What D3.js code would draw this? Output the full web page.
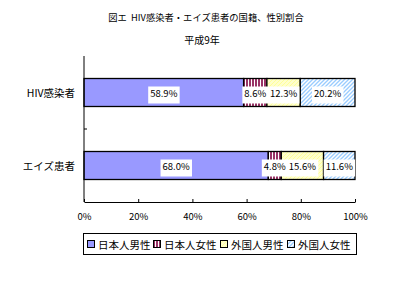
<!DOCTYPE html>
<meta charset="utf-8">
<head>
    <script src="https://d3js.org/d3.v7.min.js"></script>
    <style>
        body { margin: 0; background: #fff; font-family: 'Noto Sans CJK JP', sans-serif; }
        text { font-family: 'Noto Sans CJK JP', sans-serif; }
    </style>
</head>
<body>
<div id="chart"></div>
<script>
    // data
    var categories = ["HIV感染者", "エイズ患者"];
    var seriesNames = ["日本人男性", "日本人女性", "外国人男性", "外国人女性"];
    var hivValues = [58.9, 8.6, 12.3, 20.2];
    var aidsValues = [68.0, 4.8, 15.6, 11.6];
    var xTicks = [0, 20, 40, 60, 80, 100];
    var titleLines = ["図エ  HIV感染者・エイズ患者の国籍、性別割合", "平成9年"];

    var W = 404, H = 282;
    var margin = {top: 56, left: 84, right: 49, bottom: 80};
    var width = W - margin.left - margin.right,
        height = H - margin.top - margin.bottom;

    var svg = d3.select("#chart").append("svg")
        .attr("width", W).attr("height", H);

    // patterns
    var defs = svg.append("defs");
    var p2 = defs.append("pattern").attr("id", "pat2").attr("patternUnits", "userSpaceOnUse")
        .attr("width", 3).attr("height", 3);
    p2.append("rect").attr("width", 3).attr("height", 3).attr("fill", "#993366");
    p2.append("rect").attr("x", 2).attr("width", 1).attr("height", 3).attr("fill", "#fff");

    var p3 = defs.append("pattern").attr("id", "pat3").attr("patternUnits", "userSpaceOnUse")
        .attr("width", 4).attr("height", 4);
    p3.append("rect").attr("width", 4).attr("height", 4).attr("fill", "#FFFFCC");
    p3.append("path").attr("d", "M0,4 L4,0 M-1,1 L1,-1 M3,5 L5,3").attr("stroke", "#FFFF99").attr("stroke-width", 1);

    var p4 = defs.append("pattern").attr("id", "pat4").attr("patternUnits", "userSpaceOnUse")
        .attr("width", 4).attr("height", 4);
    p4.append("rect").attr("width", 4).attr("height", 4).attr("fill", "#fff");
    p4.append("path").attr("d", "M0,4 L4,0 M-1,1 L1,-1 M3,5 L5,3").attr("stroke", "#99CCFF").attr("stroke-width", 1.3);

    var fills = ["#9999FF", "url(#pat2)", "url(#pat3)", "url(#pat4)"];

    // title
    svg.append("text").attr("x", 206).attr("y", 21).attr("text-anchor", "middle")
        .style("font-size", "9.3px").style("white-space", "pre").text(titleLines[0]);
    svg.append("text").attr("x", 202).attr("y", 44).attr("text-anchor", "middle")
        .style("font-size", "10px").text(titleLines[1]);

    var g = svg.append("g").attr("transform", "translate(" + margin.left + "," + margin.top + ")");

    var x = d3.scaleLinear().domain([0, 100]).range([0, width]);
    var y = d3.scaleBand().domain(categories).range([0, height]);

    var rows = [hivValues, aidsValues];
    var barH = 28;

    rows.forEach(function(vals, r) {
        var cum = 0;
        var segs = vals.map(function(v, i) {
            var s = {i: i, v: v, x0: cum, x1: cum + v};
            cum += v;
            return s;
        });
        var yTop = y(categories[r]) + (y.bandwidth() - barH) / 2;
        var row = g.append("g");
        row.selectAll("rect.seg").data(segs).enter().append("rect")
            .attr("class", "seg")
            .attr("x", function(d) { return x(d.x0); })
            .attr("y", yTop)
            .attr("width", function(d) { return x(d.x1) - x(d.x0); })
            .attr("height", barH)
            .attr("fill", function(d) { return fills[d.i]; })
            .attr("stroke", "#000").attr("stroke-width", 1.3);

        // labels with white boxes
        segs.forEach(function(d) {
            var cx = (x(d.x0) + x(d.x1)) / 2;
            var t = row.append("text").attr("x", cx).attr("y", yTop + barH / 2 + 4)
                .attr("text-anchor", "middle")
                .style("font-size", "9.5px")
                .text(d.v.toFixed(1) + "%");
            var bb = t.node().getBBox();
            row.insert("rect", function() { return t.node(); })
                .attr("x", bb.x - 2).attr("y", yTop + 8)
                .attr("width", bb.width + 4).attr("height", 17)
                .attr("fill", "#fff");
        });
    });

    // category labels
    categories.forEach(function(c) {
        g.append("text").attr("x", -9).attr("y", y(c) + y.bandwidth() / 2 + 4)
            .attr("text-anchor", "end").style("font-size", "10.5px").text(c);
    });

    // y axis
    g.append("line").attr("x1", 0).attr("x2", 0).attr("y1", 0).attr("y2", height)
        .attr("stroke", "#000");
    g.append("line").attr("x1", 0).attr("x2", 3).attr("y1", y.bandwidth()).attr("y2", y.bandwidth())
        .attr("stroke", "#000");

    // x axis
    var xAxis = g.append("g").attr("transform", "translate(0," + height + ")")
        .call(d3.axisBottom(x).tickValues(xTicks).tickSizeInner(-3).tickSizeOuter(0)
            .tickFormat(function(d) { return d + "%"; }));
    xAxis.select(".domain").attr("stroke", "#000");
    xAxis.selectAll("text").attr("y", 11).style("font-size", "9.5px")
        .style("font-family", "'Noto Sans CJK JP', sans-serif");

    // legend
    var lg = svg.append("g");
    lg.append("rect").attr("x", 83.5).attr("y", 233.5).attr("width", 273).attr("height", 21)
        .attr("fill", "#fff").attr("stroke", "#000");
    var lx = [87, 153, 220, 287];
    seriesNames.forEach(function(n, i) {
        lg.append("rect").attr("x", lx[i] + 0.5).attr("y", 240.5).attr("width", 7).attr("height", 7)
            .attr("fill", fills[i]).attr("stroke", "#000");
        lg.append("text").attr("x", lx[i] + 11).attr("y", 248.5).style("font-size", "10.5px").text(n);
    });
</script>
</body>
